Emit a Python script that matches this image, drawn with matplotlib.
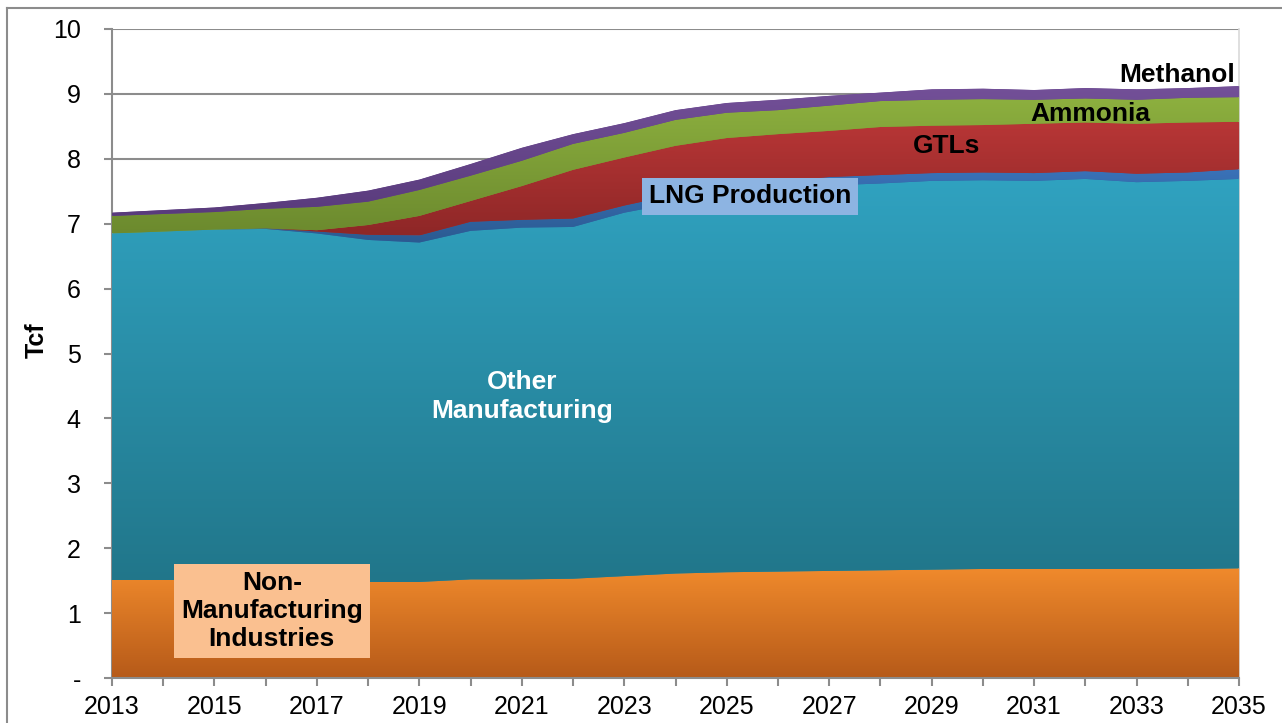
import numpy as np
import matplotlib
matplotlib.use("Agg")
import matplotlib.pyplot as plt
from matplotlib.colors import to_rgb
from matplotlib.lines import Line2D

plt.rcParams['font.family'] = ['Liberation Sans', 'DejaVu Sans']

years = list(range(2013, 2036))
non_manufacturing = [1.51, 1.51, 1.51, 1.50, 1.50, 1.48, 1.48, 1.52, 1.52, 1.53, 1.57, 1.61,
                     1.63, 1.64, 1.65, 1.66, 1.67, 1.68, 1.68, 1.68, 1.68, 1.68, 1.69]
other_manufacturing = [5.34, 5.37, 5.40, 5.42, 5.35, 5.27, 5.23, 5.37, 5.42, 5.42, 5.60, 5.71,
                       5.82, 5.89, 5.94, 5.96, 5.99, 5.99, 5.98, 6.01, 5.96, 5.98, 6.00]
lng_production = [0.00, 0.00, 0.00, 0.01, 0.03, 0.08, 0.11, 0.14, 0.12, 0.13, 0.11, 0.13,
                  0.13, 0.12, 0.13, 0.13, 0.12, 0.12, 0.12, 0.12, 0.13, 0.13, 0.15]
gtls = [0.00, 0.00, 0.00, 0.00, 0.02, 0.15, 0.30, 0.32, 0.52, 0.75, 0.74, 0.75,
        0.74, 0.73, 0.71, 0.74, 0.73, 0.73, 0.76, 0.75, 0.77, 0.77, 0.73]
ammonia = [0.27, 0.27, 0.27, 0.30, 0.36, 0.36, 0.40, 0.39, 0.39, 0.40, 0.38, 0.40,
           0.39, 0.37, 0.39, 0.40, 0.40, 0.40, 0.37, 0.37, 0.37, 0.38, 0.38]
methanol = [0.05, 0.06, 0.07, 0.09, 0.14, 0.17, 0.16, 0.18, 0.20, 0.15, 0.15, 0.15,
            0.15, 0.16, 0.15, 0.13, 0.16, 0.16, 0.15, 0.16, 0.16, 0.15, 0.17]

y_ticks = [0, 1, 2, 3, 4, 5, 6, 7, 8, 9, 10]
y_tick_labels = ['-', '1', '2', '3', '4', '5', '6', '7', '8', '9', '10']
x_tick_years = list(range(2013, 2036, 2))

series = [
    (non_manufacturing, '#F08A2C', '#B65A19'),
    (other_manufacturing, '#30A2C0', '#21768A'),
    (lng_production, '#3A72B8', '#2B5A91'),
    (gtls, '#B83636', '#8E2727'),
    (ammonia, '#8DB03F', '#6C8A2E'),
    (methanol, '#735098', '#593B7C'),
]

fig = plt.figure(figsize=(12.82, 7.23), dpi=100)
ax = fig.add_axes([112 / 1282, 1 - 678 / 723, (1239 - 112) / 1282, (678 - 29) / 723])

x = np.array(years, dtype=float)
base = np.zeros(len(years))
for vals, ctop, cbot in series:
    top = base + np.array(vals)
    mid = tuple((np.array(to_rgb(ctop)) + np.array(to_rgb(cbot))) / 2)
    poly = ax.fill_between(x, base, top, facecolor=mid, edgecolor=mid, linewidth=0.6, zorder=2)
    ymin, ymax = base.min(), top.max()
    n = 256
    t = np.linspace(0, 1, n)[:, None]
    c1 = np.array(to_rgb(ctop))
    c2 = np.array(to_rgb(cbot))
    img = (c1 * (1 - t) + c2 * t)[:, None, :]
    im = ax.imshow(img, extent=[x[0], x[-1], ymin, ymax], aspect='auto', origin='upper',
                   zorder=3, interpolation='bilinear')
    im.set_clip_path(poly.get_paths()[0], transform=ax.transData)
    base = top

ax.set_xlim(2013, 2035)
ax.set_ylim(0, 10)
ax.set_yticks(y_ticks)
ax.set_yticklabels(y_tick_labels)
ax.set_xticks(x_tick_years)
ax.set_xticklabels([str(y) for y in x_tick_years])
ax.set_xticks(years, minor=True)
ax.grid(axis='y', color='#8C8C8C', linewidth=1.5, zorder=1)
ax.set_axisbelow(True)
ax.spines['top'].set_visible(False)
ax.spines['right'].set_color('#D9D9D9')
ax.spines['right'].set_linewidth(1.2)
ax.spines['left'].set_color('#8C8C8C')
ax.spines['left'].set_linewidth(1.5)
ax.spines['bottom'].set_color('#8C8C8C')
ax.spines['bottom'].set_linewidth(1.5)
ax.spines['bottom'].set_zorder(5)
ax.tick_params(axis='y', length=6, width=1.5, color='#8C8C8C', labelsize=18, pad=16.5)
ax.tick_params(axis='x', which='both', length=6, width=1.5, color='#8C8C8C', labelsize=18, pad=6)
ax.set_ylabel('Tcf', fontsize=18, fontweight='bold')
ax.yaxis.set_label_coords(-0.0565, 0.52)

ax.text(2021.0, 4.34, 'Other\nManufacturing', color='white', fontsize=19, fontweight='bold',
        ha='center', va='center', zorder=6, linespacing=1.25)
ax.text(2016.12, 1.03, 'Non-\nManufacturing\nIndustries', color='black', fontsize=19,
        fontweight='bold', ha='center', va='center', zorder=6, linespacing=1.22,
        bbox=dict(boxstyle='square,pad=0.27', facecolor='#FAC090', edgecolor='none'))
ax.text(2025.45, 7.42, 'LNG Production', color='black', fontsize=19, fontweight='bold',
        ha='center', va='center', zorder=6,
        bbox=dict(boxstyle='square,pad=0.25', facecolor='#8DB4E2', edgecolor='none'))
ax.text(2029.3, 8.2, 'GTLs', color='black', fontsize=19, fontweight='bold',
        ha='center', va='center', zorder=6)
ax.text(2032.1, 8.69, 'Ammonia', color='black', fontsize=19, fontweight='bold',
        ha='center', va='center', zorder=6)
ax.text(2033.8, 9.29, 'Methanol', color='black', fontsize=19, fontweight='bold',
        ha='center', va='center', zorder=6)

# chart area frame (left and top edges visible)
fig.add_artist(Line2D([7 / 1282, 7 / 1282], [0, 1 - 8 / 723], transform=fig.transFigure,
                      color='#8C8C8C', linewidth=1.5))
fig.add_artist(Line2D([7 / 1282, 1], [1 - 8 / 723, 1 - 8 / 723], transform=fig.transFigure,
                      color='#8C8C8C', linewidth=1.5))

fig.savefig('out.png', dpi=100)
